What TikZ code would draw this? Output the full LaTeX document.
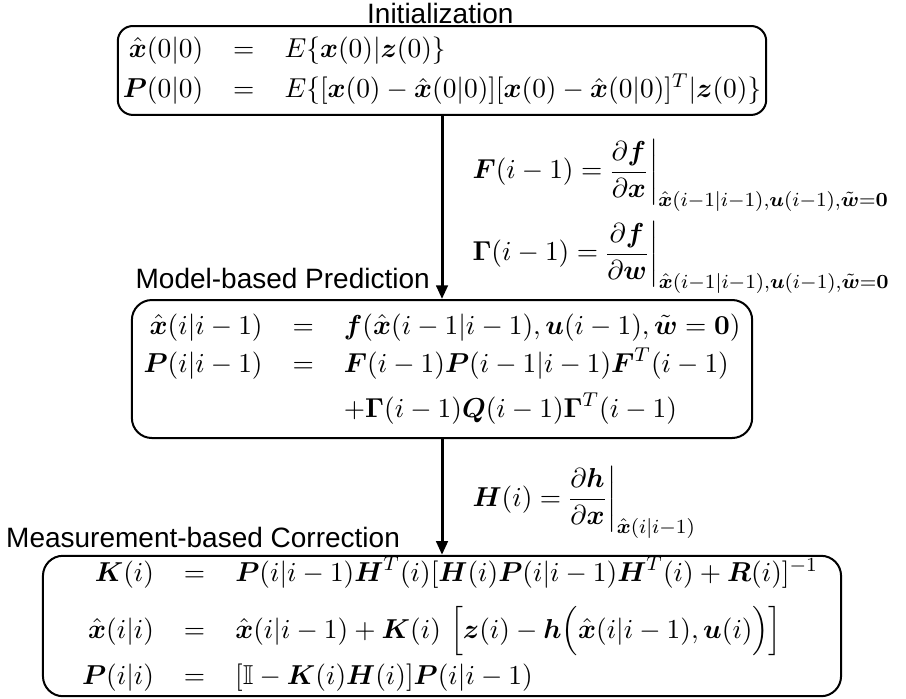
\documentclass[tikz,border=0pt]{standalone}
\usepackage{amsmath,amssymb}
\usepackage{tikz}
\usetikzlibrary{arrows.meta,calc,positioning}
\usepackage{fontspec}
\newfontfamily\titlefont{Liberation Sans}
\newcommand{\bsym}[1]{\boldsymbol{#1}}
\newcommand{\xhat}{\hat{\boldsymbol{x}}}
\setlength{\arraycolsep}{6pt}

\begin{document}
\begin{tikzpicture}[
  font=\fontsize{10.95}{13.6}\selectfont,
  box/.style={draw, thick, rounded corners=8pt, inner sep=2pt},
  title/.style={font=\titlefont\fontsize{11.2}{13}\selectfont, inner sep=0pt},
  jac/.style={anchor=base west, inner sep=0pt},
  flow/.style={very thick, -{Triangle[length=5.5pt,width=4.6pt]}}]
\useasboundingbox (0,0) rectangle (12.737,9.813);
% Titoli
\node[title, anchor=base] (tinit) at (6.19,9.476) {Initialization};
\node[title, anchor=base west] (tpred) at (1.90,5.750) {Model-based Prediction};
\node[title, anchor=base west] (tcorr) at (0.08,2.109) {Measurement-based Correction};
% Riquadri
\node[box, rounded corners=6pt, minimum width=9.08cm, minimum height=1.25cm] (init) at (6.214,8.822) {$\begin{array}{@{}rcl@{}}
\xhat(0|0) & = & E\{\bsym{x}(0)|\bsym{z}(0)\}\\[2.5pt]
\bsym{P}(0|0) & = & E\{[\bsym{x}(0)-\xhat(0|0)][\bsym{x}(0)-\xhat(0|0)]^T|\bsym{z}(0)\}
\end{array}$};
\node[box, minimum width=8.72cm, minimum height=1.94cm] (pred) at (6.214,4.625) {$\begin{array}{@{}rcl@{}}
\xhat(i|i-1) & = & \bsym{f}(\xhat(i-1|i-1),\bsym{u}(i-1),\tilde{\bsym{w}}=\bsym{0})\\[1.5pt]
\bsym{P}(i|i-1) & = & \bsym{F}(i-1)\bsym{P}(i-1|i-1)\bsym{F}^T(i-1)\\[4pt]
 & & +\bsym{\Gamma}(i-1)\bsym{Q}(i-1)\bsym{\Gamma}^T(i-1)
\end{array}$};
\node[box, inner ysep=0.5pt, minimum width=11.22cm, minimum height=1.94cm] (corr) at (6.214,1.012) {\hspace{6.4pt}$\begin{array}{@{}rcl@{}}
\bsym{K}(i) & = & \bsym{P}(i|i-1)\bsym{H}^T(i)[\bsym{H}(i)\bsym{P}(i|i-1)\bsym{H}^T(i)+\bsym{R}(i)]^{-1}\\[6pt]
\xhat(i|i) & = & \xhat(i|i-1)+\bsym{K}(i)\,\left[\bsym{z}(i)-\bsym{h}\Big(\xhat(i|i-1),\bsym{u}(i)\Big)\right]\\[5pt]
\bsym{P}(i|i) & = & [\mathbb{I}-\bsym{K}(i)\bsym{H}(i)]\bsym{P}(i|i-1)
\end{array}$};
% Frecce
\draw[flow] (init) -- (pred);
\draw[flow] (pred) -- (corr);
% Jacobiani
\node[jac] (jacF) at (6.636,7.297) {$\displaystyle \bsym{F}(i-1)=\!\left.\frac{\partial\bsym{f}}{\partial\bsym{x}}\right|_{\xhat(i-1|i-1),\bsym{u}(i-1),\tilde{\bsym{w}}=\bsym{0}}$};
\node[jac] (jacG) at (6.636,6.144) {$\displaystyle \bsym{\Gamma}(i-1)=\!\left.\frac{\partial\bsym{f}}{\partial\bsym{w}}\right|_{\xhat(i-1|i-1),\bsym{u}(i-1),\tilde{\bsym{w}}=\bsym{0}}$};
\node[jac] (jacH) at (6.636,2.699) {$\displaystyle \bsym{H}(i)=\!\left.\frac{\partial\bsym{h}}{\partial\bsym{x}}\right|_{\xhat(i|i-1)}$};
\end{tikzpicture}
\end{document}
